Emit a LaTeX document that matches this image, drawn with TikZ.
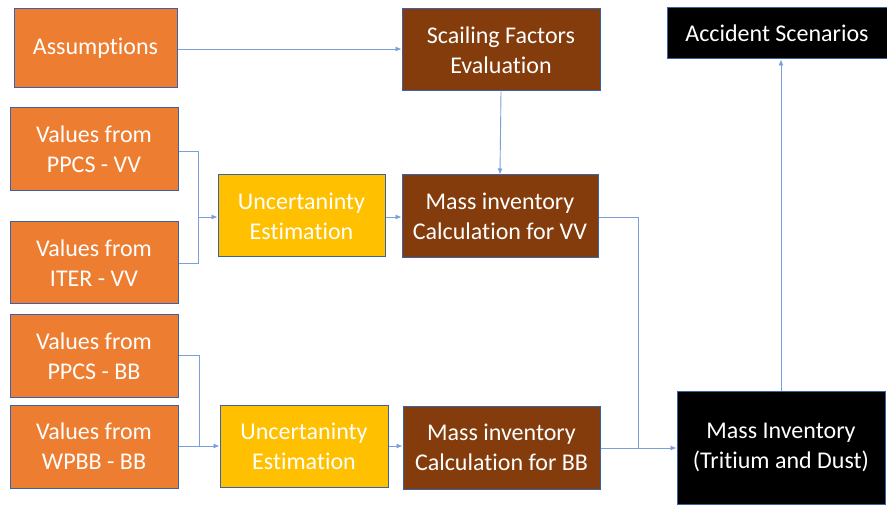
\documentclass[tikz,border=0pt]{standalone}
\usepackage{fontspec}
\setmainfont[RawFeature={-liga;-calt;-dlig}]{Carlito}
\usetikzlibrary{arrows.meta,calc}
\definecolor{orng}{HTML}{ED7D31}
\definecolor{yel}{HTML}{FFC000}
\definecolor{brwn}{HTML}{843C0C}
\definecolor{bord}{HTML}{3A62A8}
\definecolor{conn}{HTML}{7A9FDC}
\tikzset{
  box/.style={draw=bord, line width=1pt, text=white, align=center, inner sep=0pt,
    font=\fontsize{24}{30}\selectfont},
  obox/.style={box, fill=orng},
  ybox/.style={box, fill=yel},
  bbox/.style={box, fill=brwn},
  kbox/.style={box, fill=black},
  conn/.style={draw=conn, line width=0.9pt},
  arr/.style={conn, -{Latex[length=6pt,width=5pt]}},
}
\newcommand{\bx}[6]{\node[#1, minimum width=#4pt-#2pt, minimum height=#5pt-#3pt] (#6) at ({(#2+#4)/2},{(#3+#5)/2})}
\begin{document}
\begin{tikzpicture}[x=1pt,y=-1pt]
\useasboundingbox (0,0) rectangle (887,505);
\bx{obox}{14}{9}{177}{88}{assump} {Assumptions};
\bx{obox}{10}{108}{178}{191}{ppcsvv} {Values from\\PPCS - VV};
\bx{obox}{10}{222}{178}{304}{itervv} {Values from\\ITER - VV};
\bx{obox}{10}{315}{178}{397}{ppcsbb} {Values from\\PPCS - BB};
\bx{obox}{10}{405}{178}{488}{wpbbbb} {Values from\\WPBB - BB};
\bx{ybox}{218}{175}{385}{257}{uncvv} {Uncertaninty\\Estimation};
\bx{ybox}{220}{405}{388}{487}{uncbb} {Uncertaninty\\Estimation};
\bx{bbox}{402}{9}{600}{91}{scal} {Scailing Factors\\Evaluation};
\bx{bbox}{402}{175}{598}{258}{massvv} {Mass inventory\\Calculation for VV};
\bx{bbox}{403}{406}{600}{489}{massbb} {Mass inventory\\Calculation for BB};
\bx{kbox}{667}{8}{887}{59}{acc} {Accident Scenarios};
\bx{kbox}{677}{391}{885}{504}{massinv} {Mass Inventory\\(Tritium and Dust)};

\coordinate (j1) at (198,217);
\coordinate (j2) at (199,446);
\coordinate (j3) at (638,448);

\draw[arr] (assump.east |- 0,49) -- (scal.west |- 0,49);
\draw[arr] (scal.south) -- (massvv.north);
\draw[conn] (ppcsvv.east |- 0,151) -| (j1);
\draw[conn] (itervv.east |- 0,263) -| (j1);
\draw[arr] (j1) -- (uncvv.west |- j1);
\draw[arr] (uncvv.east |- 0,217) -- (massvv.west |- 0,217);
\draw[conn] (ppcsbb.east |- 0,355) -| (j2);
\draw[arr] (wpbbbb.east |- j2) -- (uncbb.west |- j2);
\draw[arr] (uncbb.east |- j2) -- (massbb.west |- j2);
\draw[conn] (massvv.east |- 0,217) -| (j3);
\draw[arr] (massbb.east |- j3) -- (massinv.west |- j3);
\draw[arr] (massinv.north) -- (acc.south -| massinv.north);
\end{tikzpicture}
\end{document}
